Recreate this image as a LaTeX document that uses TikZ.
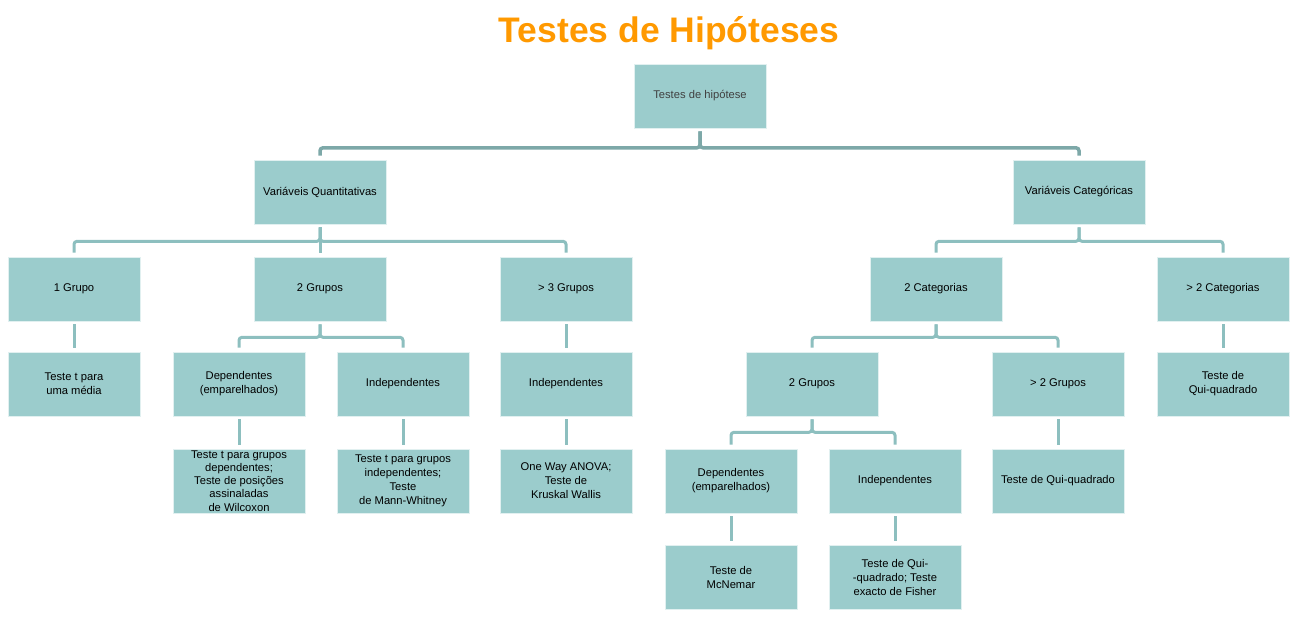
\documentclass[tikz,border=0pt]{standalone}
\usepackage{fontspec}
\setmainfont{Liberation Sans}
\usepackage{tikz}

\definecolor{boxfill}{HTML}{9BCCCC}
\definecolor{linktop}{HTML}{7DA8A8}
\definecolor{linkfill}{HTML}{8DBFBF}
\definecolor{titleorange}{HTML}{FF9900}

\tikzset{
  box/.style={rectangle, fill=boxfill, draw=white!70!boxfill, line width=0.6pt,
    minimum width=132pt, minimum height=64pt, inner sep=2pt, align=center,
    font=\fontsize{11.2}{14}\selectfont},
  link/.style={draw=linkfill, line width=3pt, rounded corners=3pt,
    shorten <=3pt, shorten >=4pt},
  toplink/.style={link, draw=linktop, line width=3.5pt},
}

\begin{document}
\begin{tikzpicture}[x=1pt,y=-1pt]
    \useasboundingbox (0,0) rectangle (1302,636);

    % title
    \node[anchor=base, text=titleorange, font=\fontsize{35.5}{40}\selectfont\bfseries] (title) at (669,43) {Testes de Hipóteses};

    % root and first level
    \node[box, text=black!75] (hip) at (700,96) {Testes de hipótese};
    \node[box] (quant) at (320,192) {Variáveis Quantitativas};
    \node[box] (categ) at (1079,192) {Variáveis Categóricas};

    % quantitative branch
    \node[box] (g1) at (74,289) {1 Grupo};
    \node[box] (g2) at (320,289) {2 Grupos};
    \node[box] (g3) at (566,289) {> 3 Grupos};
    \node[box] (tmedia) at (74,384) {Teste t para\\uma média};
    \node[box] (dep) at (239,384) {Dependentes\\(emparelhados)};
    \node[box] (indep) at (403,384) {Independentes};
    \node[box] (indep3) at (566,384) {Independentes};
    \node[box, inner ysep=0pt, font=\fontsize{11.2}{13.2}\selectfont] (tdep) at (239,481) {Teste t para grupos\\dependentes;\\Teste de posições\\assinaladas\\de Wilcoxon};
    \node[box] (tindep) at (403,481) {Teste t para grupos\\independentes;\\Teste\\de Mann-Whitney};
    \node[box] (anova) at (566,481) {One Way ANOVA;\\Teste de\\Kruskal Wallis};

    % categorical branch
    \node[box] (c2) at (936,289) {2 Categorias};
    \node[box] (cmais) at (1223,289) {> 2 Categorias};
    \node[box] (cg2) at (812,384) {2 Grupos};
    \node[box] (cg3) at (1058,384) {> 2 Grupos};
    \node[box] (quimais) at (1223,384) {Teste de\\Qui-quadrado};
    \node[box] (cdep) at (731,481) {Dependentes\\(emparelhados)};
    \node[box] (cindep) at (895,481) {Independentes};
    \node[box] (qui3) at (1058,481) {Teste de Qui-quadrado};
    \node[box] (mcnemar) at (731,577) {Teste de\\McNemar};
    \node[box] (fisher) at (895,577) {Teste de Qui-\\-quadrado; Teste\\exacto de Fisher};

    % connectors
    \draw[toplink] (hip.south) -- ++(0,19.5) -| (quant.north);
    \draw[toplink] (hip.south) -- ++(0,19.5) -| (categ.north);

    \draw[link] (quant.south) -- ++(0,17) -| (g1.north);
    \draw[link] (quant.south) -- (g2.north);
    \draw[link] (quant.south) -- ++(0,17) -| (g3.north);
    \draw[link] (g1.south) -- (tmedia.north);
    \draw[link] (g2.south) -- ++(0,16) -| (dep.north);
    \draw[link] (g2.south) -- ++(0,16) -| (indep.north);
    \draw[link] (g3.south) -- (indep3.north);
    \draw[link] (dep.south) -- (tdep.north);
    \draw[link] (indep.south) -- (tindep.north);
    \draw[link] (indep3.south) -- (anova.north);

    \draw[link] (categ.south) -- ++(0,17) -| (c2.north);
    \draw[link] (categ.south) -- ++(0,17) -| (cmais.north);
    \draw[link] (c2.south) -- ++(0,16) -| (cg2.north);
    \draw[link] (c2.south) -- ++(0,16) -| (cg3.north);
    \draw[link] (cmais.south) -- (quimais.north);
    \draw[link] (cg2.south) -- ++(0,16) -| (cdep.north);
    \draw[link] (cg2.south) -- ++(0,16) -| (cindep.north);
    \draw[link] (cg3.south) -- (qui3.north);
    \draw[link] (cdep.south) -- (mcnemar.north);
    \draw[link] (cindep.south) -- (fisher.north);
\end{tikzpicture}
\end{document}
